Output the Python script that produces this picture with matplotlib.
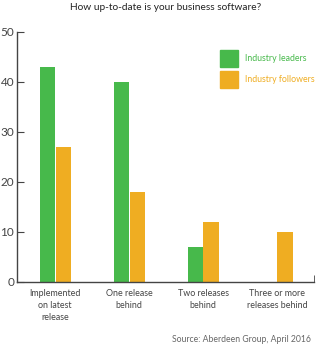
import numpy as np
import matplotlib.pyplot as plt

plt.rcParams['font.family'] = ['Lato', 'DejaVu Sans']

categories = ["Implemented\non latest\nrelease", "One release\nbehind", "Two releases\nbehind", "Three or more\nreleases behind"]
leaders   = [43, 40, 7, 0]
followers = [27, 18, 12, 10]
series_names = ["Industry leaders", "Industry followers"]

green  = "#47b94b"
orange = "#efad22"
grey   = "#444444"

fig = plt.figure(figsize=(3.31, 3.64), dpi=100)
ax = fig.add_axes([17/331, 82/364, 297/331, 250/364])

x = np.arange(len(categories))
w = 0.203
ax.bar(x - 0.108, leaders, w, color=green)
ax.bar(x + 0.108, followers, w, color=orange)

ax.set_xlim(-0.514, 3.5)
ax.set_ylim(0, 50)
ax.set_yticks([0, 10, 20, 30, 40, 50])
ax.set_xticks(x)
ax.set_xticklabels(categories, fontsize=6.4, color=grey, linespacing=1.4)
ax.set_xticks([3.5], minor=True)
ax.tick_params(axis='x', which='major', length=0, pad=5)
ax.tick_params(axis='x', which='minor', direction='in', length=5, color=grey)
ax.tick_params(axis='y', direction='in', length=5, color=grey, labelsize=8.5, labelcolor=grey, pad=2)

for s in ['top', 'right']:
    ax.spines[s].set_visible(False)
for s in ['left', 'bottom']:
    ax.spines[s].set_color(grey)
    ax.spines[s].set_linewidth(1)

# legend drawn as squares + coloured text
for i, (name, c) in enumerate(zip(series_names, [green, orange])):
    y0 = 1 - (67 + i*21)/364
    fig.patches.append(plt.Rectangle((220/331, y0), 18/331, 17/364, transform=fig.transFigure, color=c, figure=fig))
    fig.text(245/331, y0 + 8.5/364, name, fontsize=6.3, color=c, va='center', ha='left')

fig.text(0.5, 1 - 8/364, "How up-to-date is your business software?", fontsize=7.3, color="#222222", ha='center', va='center')
fig.text(311/331, 1 - 339/364, "Source: Aberdeen Group, April 2016", fontsize=6.2, color="#666666", ha='right', va='center')

fig.savefig("out.png", dpi=100)
